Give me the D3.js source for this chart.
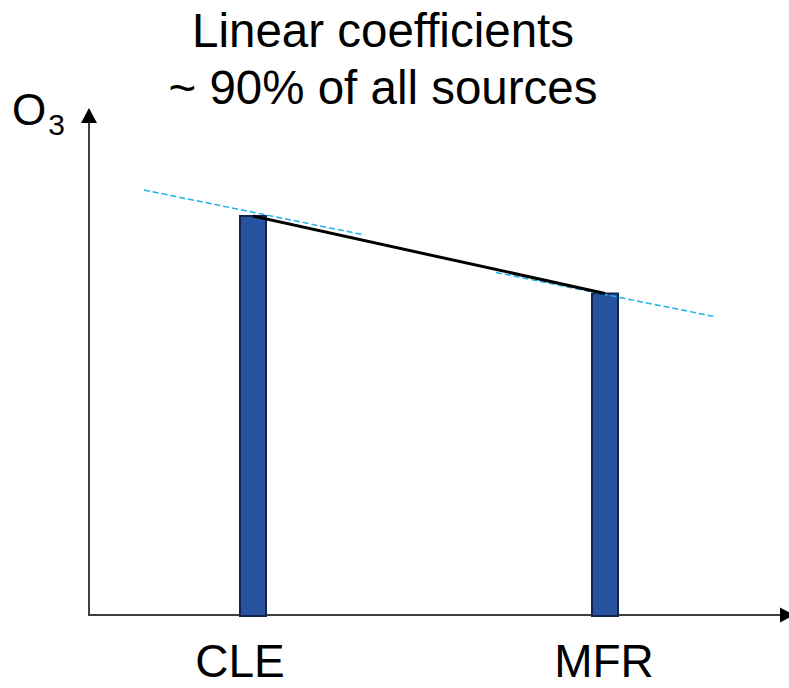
<!DOCTYPE html>
<html>
<head>
<meta charset="utf-8">
<script src="https://cdn.jsdelivr.net/npm/d3@7/dist/d3.min.js"></script>
<style>
  html, body { margin: 0; padding: 0; background: #fff; }
  svg { display: block; font-family: "Liberation Sans", Arial, sans-serif; }
</style>
</head>
<body>
<svg id="chart" width="789" height="688"></svg>
<script>
// ---- data ----
const categories = ["CLE", "MFR"];
const values = [80, 64.5];                 // O3 response (arbitrary units)
const tangentStart = [85, 68.5];           // local linear fit, left end
const tangentEnd = [76.1, 59.7];           // local linear fit, right end
const tangentHalfSpan = 0.31;              // in category units
const titleLines = ["Linear coefficients", "~ 90% of all sources"];
const yLabel = "O";
const yLabelSub = "3";

// ---- layout ----
const W = 789, H = 688;
const axisX = 89, axisY = 615, axisTop = 110, axisRight = 780;
const svg = d3.select("#chart");

const x = d3.scaleLinear().domain([0, categories.length - 1]).range([253, 605]);
const y = d3.scaleLinear().domain([0, 100]).range([axisY, axisY - 500]);
const barW = 26;

// axes
const axisColor = "#3f3f3f";
svg.append("line").attr("x1", axisX).attr("x2", axisX).attr("y1", axisY).attr("y2", axisTop + 10)
  .attr("stroke", axisColor).attr("stroke-width", 2);
svg.append("path").attr("d", `M${axisX},${axisTop - 2} L${axisX - 8},${axisTop + 13} L${axisX + 8},${axisTop + 13} Z`)
  .attr("fill", "#000");
svg.append("line").attr("x1", axisX - 1).attr("x2", axisRight + 2).attr("y1", axisY).attr("y2", axisY)
  .attr("stroke", axisColor).attr("stroke-width", 2);
svg.append("path").attr("d", `M${axisRight + 14},${axisY} L${axisRight},${axisY - 7.5} L${axisRight},${axisY + 7.5} Z`)
  .attr("fill", "#000");

// bars
svg.selectAll("rect.bar").data(categories).enter().append("rect")
  .attr("class", "bar")
  .attr("x", (d, i) => x(i) - barW / 2)
  .attr("y", (d, i) => y(values[i]) + 1)
  .attr("width", barW)
  .attr("height", (d, i) => y(0) - y(values[i]))
  .attr("fill", "#2853a0")
  .attr("stroke", "#13244f")
  .attr("stroke-width", 2);

// tangent (linear coefficient) dashed lines
svg.selectAll("line.tan").data(categories).enter().append("line")
  .attr("class", "tan")
  .attr("x1", (d, i) => x(i - tangentHalfSpan))
  .attr("x2", (d, i) => x(i + tangentHalfSpan))
  .attr("y1", (d, i) => y(tangentStart[i]))
  .attr("y2", (d, i) => y(tangentEnd[i]))
  .attr("stroke", "#1cb2ee")
  .attr("stroke-width", 1.5)
  .attr("stroke-dasharray", "6,3");

// connecting line
const line = d3.line().x((d, i) => x(i)).y(d => y(d) + 1);
svg.append("path").datum(values).attr("d", line)
  .attr("fill", "none").attr("stroke", "#000").attr("stroke-width", 3);

// category labels
const labelDx = [-13, -1];
svg.selectAll("text.cat").data(categories).enter().append("text")
  .attr("class", "cat")
  .attr("x", (d, i) => x(i) + labelDx[i])
  .attr("y", 677)
  .attr("text-anchor", "middle")
  .attr("font-size", 46)
  .attr("fill", "#000")
  .text(d => d);

// title
svg.selectAll("text.title").data(titleLines).enter().append("text")
  .attr("class", "title")
  .attr("x", 383)
  .attr("y", (d, i) => 47 + i * 57)
  .attr("text-anchor", "middle")
  .attr("font-size", 47.5)
  .attr("fill", "#000")
  .text(d => d);

// y label O3
const yl = svg.append("text").attr("x", 12).attr("y", 125).attr("font-size", 44).attr("fill", "#000");
yl.append("tspan").text(yLabel);
yl.append("tspan").attr("font-size", 30).attr("dy", 10).attr("dx", 2).text(yLabelSub);
</script>
</body>
</html>
